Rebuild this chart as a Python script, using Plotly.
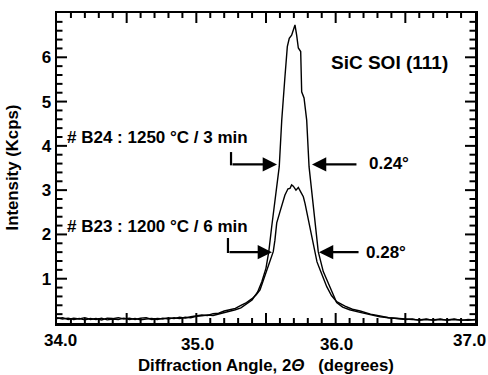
import plotly.graph_objects as go

# ---------------- data ----------------
b24_angle = [34.00, 34.04, 34.08, 34.12, 34.16, 34.20, 34.24, 34.28, 34.32, 34.36,
             34.40, 34.44, 34.48, 34.52, 34.56, 34.60, 34.64, 34.68, 34.72, 34.76,
             34.80, 34.84, 34.88, 34.92, 34.96, 35.00, 35.04, 35.08, 35.12, 35.16,
             35.20, 35.24, 35.28, 35.32, 35.36, 35.40, 35.44, 35.47, 35.50, 35.52,
             35.54, 35.57, 35.595, 35.613, 35.625, 35.636, 35.653, 35.667, 35.684, 35.696,
             35.708, 35.720, 35.732, 35.749, 35.756, 35.773, 35.792, 35.809, 35.83, 35.852,
             35.875, 35.911, 35.959, 36.007, 36.05, 36.10, 36.175, 36.25, 36.318, 36.38,
             36.44, 36.50, 36.55, 36.60, 36.65, 36.70, 36.75, 36.80, 36.85, 36.90,
             36.95, 37.00]
b24_intensity = [0.12, 0.09, 0.11, 0.08, 0.10, 0.07, 0.10, 0.08, 0.11, 0.07,
                 0.09, 0.08, 0.11, 0.08, 0.10, 0.07, 0.09, 0.10, 0.08, 0.11,
                 0.09, 0.12, 0.10, 0.13, 0.12, 0.15, 0.16, 0.18, 0.17, 0.20,
                 0.24, 0.26, 0.30, 0.34, 0.42, 0.52, 0.70, 0.93, 1.24, 1.61,
                 2.15, 2.89, 3.53, 4.58, 5.00, 5.56, 6.24, 6.43, 6.50, 6.62,
                 6.73, 6.50, 6.21, 6.13, 5.22, 5.08, 4.58, 3.53, 2.89, 2.33,
                 1.61, 1.16, 0.82, 0.46, 0.36, 0.30, 0.24, 0.18, 0.14, 0.12,
                 0.10, 0.09, 0.08, 0.07, 0.09, 0.06, 0.08, 0.07, 0.09, 0.06,
                 0.08, 0.07]

b23_angle = [34.00, 34.04, 34.08, 34.12, 34.16, 34.20, 34.24, 34.28, 34.32, 34.36,
             34.40, 34.44, 34.48, 34.52, 34.56, 34.60, 34.64, 34.68, 34.72, 34.76,
             34.80, 34.84, 34.88, 34.92, 34.96, 35.00, 35.04, 35.08, 35.12, 35.16,
             35.20, 35.24, 35.28, 35.32, 35.36, 35.40, 35.43, 35.457, 35.48, 35.505,
             35.53, 35.552, 35.564, 35.577, 35.60, 35.624, 35.636, 35.658, 35.672, 35.684,
             35.696, 35.715, 35.732, 35.749, 35.768, 35.78, 35.804, 35.83, 35.852, 35.866,
             35.888, 35.936, 35.97, 36.007, 36.067, 36.12, 36.175, 36.25, 36.318, 36.38,
             36.44, 36.50, 36.55, 36.60, 36.65, 36.70, 36.75, 36.80, 36.85, 36.90,
             36.95, 37.00]
b23_intensity = [0.10, 0.12, 0.08, 0.11, 0.09, 0.12, 0.08, 0.10, 0.07, 0.11,
                 0.10, 0.12, 0.09, 0.11, 0.08, 0.11, 0.12, 0.08, 0.10, 0.09,
                 0.12, 0.10, 0.13, 0.11, 0.14, 0.16, 0.18, 0.17, 0.21, 0.22,
                 0.27, 0.30, 0.33, 0.40, 0.46, 0.55, 0.64, 0.75, 0.95, 1.20,
                 1.38, 1.61, 1.87, 2.26, 2.51, 2.78, 2.89, 3.03, 3.04, 3.12,
                 3.09, 3.00, 3.06, 2.96, 2.85, 2.70, 2.33, 1.87, 1.61, 1.38,
                 1.20, 0.82, 0.62, 0.48, 0.38, 0.31, 0.27, 0.20, 0.16, 0.12,
                 0.10, 0.08, 0.09, 0.06, 0.08, 0.07, 0.09, 0.06, 0.08, 0.07,
                 0.06, 0.08]

x_tick_vals = [34.0, 35.0, 36.0, 37.0]
x_tick_text = ["34.0", "35.0", "36.0", "37.0"]
y_tick_vals = [1, 2, 3, 4, 5, 6]
y_tick_text = ["1", "2", "3", "4", "5", "6"]

sample_labels = ["# B24 : 1250 \u00b0C / 3 min", "# B23 : 1200 \u00b0C / 6 min"]
fwhm_labels = ["0.24\u00b0", "0.28\u00b0"]
title_label = "SiC SOI (111)"

X_MIN, X_MAX, Y_MIN, Y_MAX = 34.0, 37.0, 0.0, 7.0

# ---------------- figure ----------------
W, H = 488, 375
ML, MR, MT, MB = 57, 13, 13, 52
PX_PER_X = (W - ML - MR) / (X_MAX - X_MIN)   # pixels per degree
PX_PER_Y = (H - MT - MB) / (Y_MAX - Y_MIN)   # pixels per Kcps

FONT = "Liberation Sans, Arial, Helvetica, sans-serif"


def bold(size):
    return dict(family=FONT, size=size, color="black", weight="bold")


fig = go.Figure()
for xs, ys in [(b24_angle, b24_intensity), (b23_angle, b23_intensity)]:
    fig.add_trace(go.Scatter(x=xs, y=ys, mode="lines",
                             line=dict(color="black", width=1.4),
                             showlegend=False, hoverinfo="skip"))

# inside tick marks on all four frame sides (major + minor), built from the axis ranges
tx, ty = [], []
nx = int(round((X_MAX - X_MIN) / 0.1))
for i in range(1, nx):
    v = X_MIN + i * 0.1
    ln = (10 if i % 5 == 0 else 5) / PX_PER_Y
    tx += [v, v, None, v, v, None]
    ty += [Y_MIN, Y_MIN + ln, None, Y_MAX, Y_MAX - ln, None]
ny = int(round((Y_MAX - Y_MIN) / 0.2))
for i in range(1, ny):
    v = Y_MIN + i * 0.2
    ln = (10 if i % 5 == 0 else 5.5) / PX_PER_X
    tx += [X_MIN, X_MIN + ln, None, X_MAX, X_MAX - ln, None]
    ty += [v, v, None, v, v, None]
fig.add_trace(go.Scatter(x=tx, y=ty, mode="lines", line=dict(color="black", width=2),
                         showlegend=False, hoverinfo="skip", connectgaps=False,
                         cliponaxis=False))

annotations = []
for v, t in zip(x_tick_vals, x_tick_text):
    last = v == x_tick_vals[-1]
    first = v == x_tick_vals[0]
    annotations.append(dict(
        x=v, y=0, xref="x", yref="paper", text=t,
        showarrow=False, xanchor="right" if last else "center", yanchor="top",
        xshift=13 if last else (3 if first else 1),
        yshift=-6 if (first or last) else -10,
        font=bold(17)))

annotations.append(dict(x=35.955, y=5.89, xref="x", yref="y", text=title_label,
                        showarrow=False, xanchor="left", yanchor="middle", font=bold(19)))
for lbl, yy in zip(sample_labels, [4.18, 2.17]):
    annotations.append(dict(x=34.055, y=yy, xref="x", yref="y", text=lbl,
                            showarrow=False, xanchor="left", yanchor="middle", font=bold(17)))
for lbl, xx, yy in zip(fwhm_labels, [36.225, 36.205], [3.60, 1.60]):
    annotations.append(dict(x=xx, y=yy, xref="x", yref="y", text=lbl,
                            showarrow=False, xanchor="left", yanchor="middle", font=bold(17)))

arrow_specs = [(35.579, 35.249, 3.58), (35.830, 36.160, 3.58),
               (35.543, 35.227, 1.60), (35.880, 36.175, 1.60)]
for tip, tail, yy in arrow_specs:
    annotations.append(dict(x=tip, y=yy, ax=tail, ay=yy, xref="x", yref="y",
                            axref="x", ayref="y", text="", showarrow=True,
                            arrowhead=2, arrowsize=1.3, arrowwidth=2.2,
                            arrowcolor="black", standoff=0))

annotations.append(dict(x=0.5, y=0, xref="paper", yref="paper",
                        text="Diffraction Angle, 2<i>\u0398</i>\u00a0\u00a0 (degrees)",
                        showarrow=False, xanchor="center", yanchor="top", yshift=-31,
                        font=bold(16.8)))
annotations.append(dict(x=0, y=0.5, xref="paper", yref="paper", text="Intensity (Kcps)",
                        showarrow=False, textangle=-90, xanchor="right", yanchor="middle",
                        xshift=-34, font=bold(16.8)))

shapes = []
for xx, y0, y1 in [(35.249, 3.58, 3.86), (35.227, 1.60, 1.92)]:
    shapes.append(dict(type="line", xref="x", yref="y", x0=xx, x1=xx, y0=y0 - 0.02, y1=y1,
                       line=dict(color="black", width=2.2)))

fig.update_layout(
    width=W, height=H,
    margin=dict(l=ML, r=MR, t=MT, b=MB, autoexpand=False),
    paper_bgcolor="white", plot_bgcolor="white",
    font=dict(family=FONT, size=16, color="black"),
    annotations=annotations, shapes=shapes,
    xaxis=dict(range=[X_MIN, X_MAX], showgrid=False, zeroline=False, automargin=False,
               showline=True, linecolor="black", linewidth=2.5, mirror=True,
               ticks="", showticklabels=False),
    yaxis=dict(range=[Y_MIN, Y_MAX], showgrid=False, zeroline=False, automargin=False,
               showline=True, linecolor="black", linewidth=2.5, mirror=True,
               ticks="", tickmode="array", tickvals=y_tick_vals, ticktext=y_tick_text,
               tickfont=bold(17)),
)

fig.write_html("out.html", config={"displayModeBar": False, "staticPlot": True},
               post_script="document.body.style.margin='0';")
